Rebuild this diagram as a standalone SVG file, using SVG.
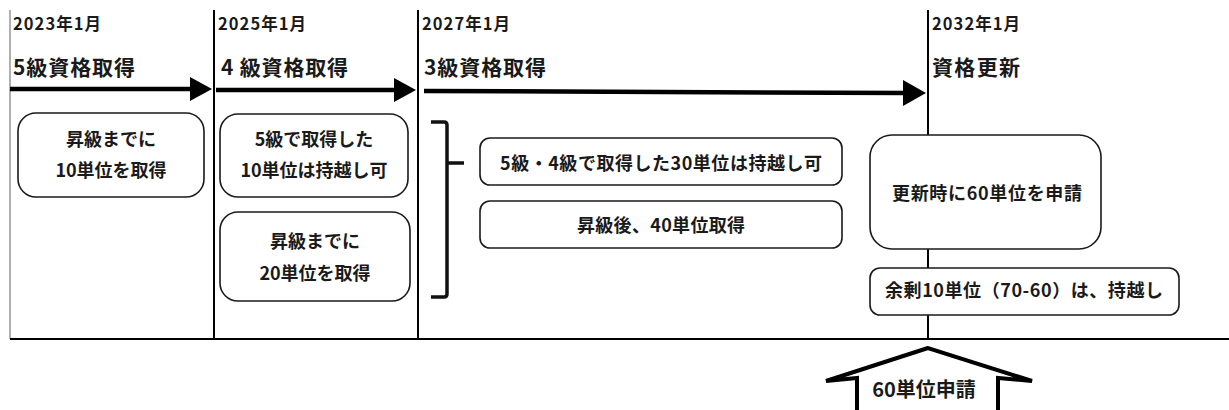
<svg xmlns="http://www.w3.org/2000/svg" width="1229" height="410" viewBox="0 0 1229 410">
<style>
  text { font-family: "Noto Sans CJK JP", "Noto Sans", sans-serif; font-weight: bold; fill: #1a1a1a; }
  .date { font-size: 16.5px; }
  .head { font-size: 21px; }
  .lbl { font-size: 18px; text-anchor: middle; }
  .box { fill: #fff; stroke: #1a1a1a; stroke-width: 1.6; }
  .vl { stroke: #000; stroke-width: 2; }
  .shaft { stroke: #000; stroke-width: 4.5; fill: none; }
  .head-tri { fill: #000; }
</style>
<rect width="1229" height="410" fill="#fff"/>

<g id="timeline">
  <line x1="10" y1="10" x2="10" y2="339" stroke="#b0b0b0" stroke-width="2"/>
  <line class="vl" x1="214" y1="10" x2="214" y2="339"/>
  <line class="vl" x1="418" y1="10" x2="418" y2="339"/>
  <line class="vl" x1="928" y1="10" x2="928" y2="339"/>
  <line x1="10" y1="339" x2="1229" y2="339" stroke="#000" stroke-width="2"/>
</g>

<g id="period-labels">
  <text class="date" x="13" y="30" textLength="88" lengthAdjust="spacing">2023年1月</text>
  <text class="date" x="218" y="30" textLength="88" lengthAdjust="spacing">2025年1月</text>
  <text class="date" x="422" y="30" textLength="88" lengthAdjust="spacing">2027年1月</text>
  <text class="date" x="932" y="30" textLength="88" lengthAdjust="spacing">2032年1月</text>
  <text class="head" x="13" y="75" textLength="122" lengthAdjust="spacing">5級資格取得</text>
  <text class="head" x="221" y="75" textLength="127" lengthAdjust="spacing">4 級資格取得</text>
  <text class="head" x="424" y="75" textLength="122" lengthAdjust="spacing">3級資格取得</text>
  <text class="head" x="932" y="75" textLength="88" lengthAdjust="spacing">資格更新</text>
</g>

<g id="connectors">
  <line class="shaft" x1="10" y1="89" x2="192" y2="89"/>
  <polygon class="head-tri" points="190,77 212,89 190,101"/>
  <line class="shaft" x1="216" y1="90" x2="396" y2="90"/>
  <polygon class="head-tri" points="394,78 416,90 394,102"/>
  <line class="shaft" x1="424" y1="91" x2="906" y2="93"/>
  <polygon class="head-tri" points="903,80 926,93 903,106"/>
</g>

<g id="node-5kyu">
  <rect class="box" x="18" y="113" width="186" height="84" rx="18"/>
  <text class="lbl" x="111" y="146">昇級までに</text>
  <text class="lbl" x="111" y="177">10単位を取得</text>
</g>

<g id="node-4kyu-carry">
  <rect class="box" x="220" y="114" width="188" height="83" rx="18"/>
  <text class="lbl" x="314" y="146">5級で取得した</text>
  <text class="lbl" x="314" y="177">10単位は持越し可</text>
</g>

<g id="node-4kyu-get">
  <rect class="box" x="220" y="212" width="190" height="89" rx="18"/>
  <text class="lbl" x="315" y="248">昇級までに</text>
  <text class="lbl" x="315" y="280">20単位を取得</text>
</g>

<g id="bracket">
  <path d="M431,122 H444 Q447,122 447,125 V294 Q447,297 444,297 H431 M447,163 H464" fill="none" stroke="#111" stroke-width="3.5"/>
</g>

<g id="node-3kyu-carry">
  <rect class="box" x="480" y="138" width="362" height="47" rx="10"/>
  <text class="lbl" x="661" y="170" textLength="322" lengthAdjust="spacing">5級・4級で取得した30単位は持越し可</text>
</g>

<g id="node-3kyu-get">
  <rect class="box" x="480" y="201" width="362" height="47" rx="10"/>
  <text class="lbl" x="661" y="232" textLength="168" lengthAdjust="spacing">昇級後、40単位取得</text>
</g>

<g id="node-renew">
  <rect class="box" x="870" y="135" width="231" height="114" rx="22"/>
  <text class="lbl" x="987" y="200" textLength="190" lengthAdjust="spacing">更新時に60単位を申請</text>
</g>

<g id="node-surplus">
  <rect class="box" x="870" y="268" width="309" height="47" rx="10"/>
  <text class="lbl" x="1024" y="297" textLength="278" lengthAdjust="spacing">余剰10単位（70-60）は、持越し</text>
</g>

<g id="node-apply">
  <polygon points="928,348 826,381 857,378 857,414 998,414 998,378 1032,381" fill="#fff" stroke="#000" stroke-width="4" stroke-linejoin="miter"/>
  <text x="924" y="397" style="font-size:20px" text-anchor="middle">60単位申請</text>
</g>
</svg>
